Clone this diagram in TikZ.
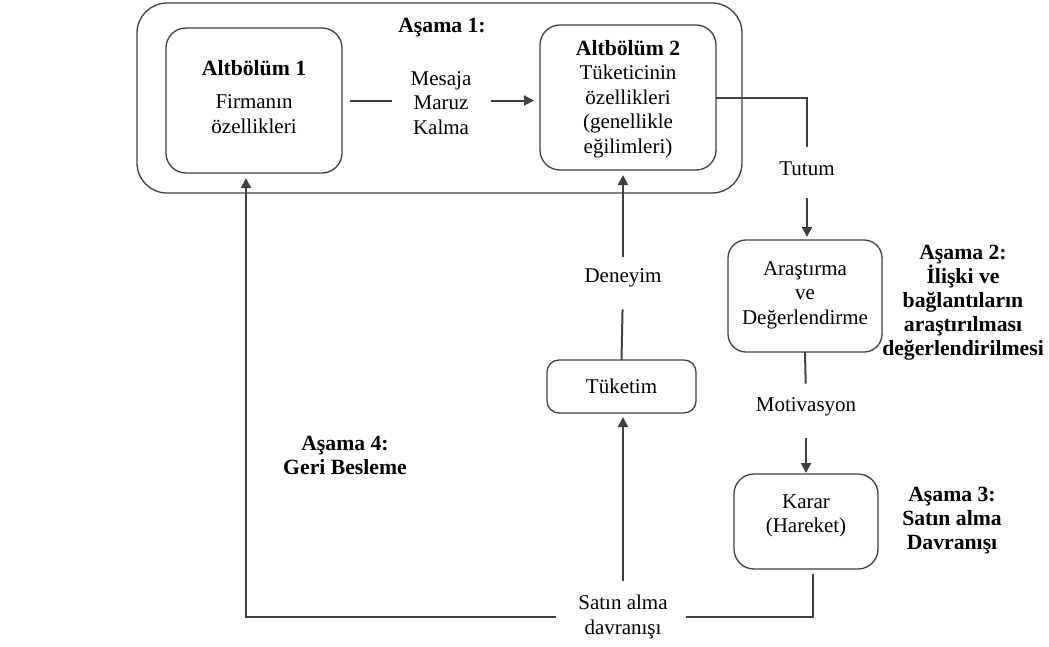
\documentclass[tikz,border=0pt]{standalone}
\usepackage{fontspec}
\setmainfont{Liberation Serif}
\usetikzlibrary{arrows.meta}
\definecolor{linec}{RGB}{64,64,64}
\newcommand\boxtitle[1]{{\fontsize{21.7}{25}\selectfont\bfseries #1}}
\begin{document}
\begin{tikzpicture}[x=1pt,y=-1pt,
  box/.style={draw=linec, line width=1.3pt, rounded corners=20pt, inner sep=0pt, outer sep=0pt},
  conn/.style={draw=linec, line width=2pt},
  arr/.style={conn, -{Triangle[length=10pt,width=10pt]}},
  txt/.style={font=\fontsize{21}{24.5}\selectfont, align=center, inner sep=0pt},
  btxt/.style={font=\fontsize{21.7}{24}\selectfont\bfseries, align=center, inner sep=0pt}]
\useasboundingbox (0,0) rectangle (1049,646);
% boxes
\node[box, rounded corners=30pt, minimum width=605pt, minimum height=190pt] (outer) at (439.5,98) {};
\node[box, minimum width=176pt, minimum height=145pt] (b1) at (254,100.5) {};
\node[box, minimum width=176pt, minimum height=145pt] (b2) at (628,97.5) {};
\node[box, rounded corners=18pt, minimum width=154pt, minimum height=112pt] (ar) at (805,296) {};
\node[box, minimum width=144pt, minimum height=95pt] (kr) at (806,521.5) {};
\node[box, rounded corners=12pt, minimum width=149pt, minimum height=53pt, txt] (tk) at (621.5,386.5) {Tüketim};
% texts
\node[btxt] (a1) at (442,28) {Aşama 1:};
\node[txt] (t1) at (254,97) {\boxtitle{Altbölüm 1}\\[9pt]Firmanın\\özellikleri};
\node[txt] (msg) at (441,103) {Mesaja\\Maruz\\Kalma};
\node[txt] (t2) at (628,99) {\boxtitle{Altbölüm 2}\\Tüketicinin\\özellikleri\\(genellikle\\eğilimleri)};
\node[txt] (tutum) at (807,169) {Tutum};
\node[txt] (tar) at (805,295) {Araştırma\\ve\\Değerlendirme};
\node[btxt] (a2) at (963,303) {Aşama 2:\\İlişki ve\\bağlantıların\\araştırılması\\değerlendirilmesi};
\node[txt] (mot) at (806,407) {Motivasyon};
\node[txt] (tkr) at (806,516) {Karar\\(Hareket)};
\node[btxt] (a3) at (952,521) {Aşama 3:\\Satın alma\\Davranışı};
\node[txt] (den) at (623,278) {Deneyim};
\node[btxt] (a4) at (345,455) {Aşama 4:\\Geri Besleme};
\node[txt] (sat) at (623,617) {Satın alma\\davranışı};
% connectors
\draw[conn, shorten <=8pt, shorten >=18pt] (b1.east) -- (b1.east -| msg.west);
\draw[arr, shorten <=19pt, shorten >=6pt] (msg.east |- b1.east) -- (b2.west |- b1.east);
\draw[conn, shorten >=15pt] (b2.east) -| (tutum.north);
\draw[arr, shorten <=22pt, shorten >=3pt] (tutum.south) -- (tutum.south |- ar.north);
\draw[conn, shorten >=14pt] (ar.south) -- (mot.north);
\draw[arr, shorten <=22pt, shorten >=1pt] (mot.south) -- (mot.south |- kr.north);
\draw[conn, shorten >=18pt] ([xshift=7pt,yshift=-5pt]kr.south) |- (sat.east);
\draw[arr, shorten <=22pt, shorten >=5pt] (sat.west) -| ([xshift=-8pt]b1.south);
\draw[arr, shorten <=14pt, shorten >=4pt] (sat.north) -- (sat.north |- tk.south);
\draw[conn, shorten >=22pt] (tk.north) -- (den.south);
\draw[arr, shorten <=12pt, shorten >=5pt] (den.north) -- (den.north |- b2.south);
\end{tikzpicture}
\end{document}
